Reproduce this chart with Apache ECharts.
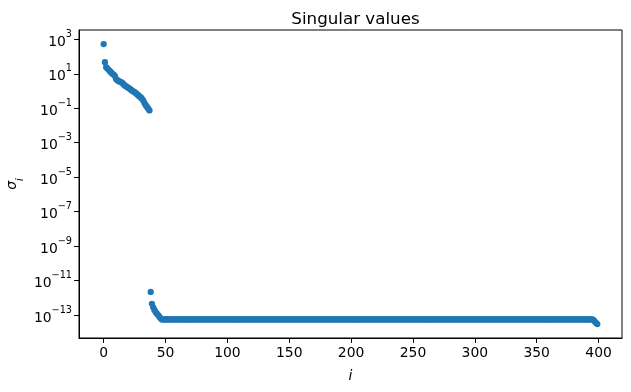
<!DOCTYPE html>
<html>
<head>
<meta charset="utf-8">
<script src="https://cdn.jsdelivr.net/npm/echarts@6/dist/echarts.min.js"></script>
<style>
html,body{margin:0;padding:0;background:#fff;}
#chart{width:631px;height:392px;}
</style>
</head>
<body>
<div id="chart"></div>
<script>
// Leading singular values (indices 0..37)
var headValues = [530, 47, 24, 20, 17, 14, 12, 10, 9.0, 7.5,
  5.0, 4.2, 3.8, 3.5, 3.3, 3.0, 2.5, 2.1, 1.9, 1.7,
  1.5, 1.35, 1.2, 1.05, 0.95, 0.85, 0.75, 0.65, 0.55, 0.48,
  0.42, 0.35, 0.28, 0.2, 0.15, 0.12, 0.095, 0.075];
// Sharp drop (indices 38..46)
var dropValues = [2.2e-12, 4.5e-13, 2.8e-13, 2.0e-13, 1.5e-13, 1.2e-13, 1.0e-13, 8e-14, 6.5e-14];
// Plateau (run of equal values, indices 47..395)
var plateauValue = 5.6e-14;
var plateauCount = 349;
// Tail (indices 396..399)
var tailValues = [5.0e-14, 4.2e-14, 3.5e-14, 3.0e-14];

var xTicks = [0, 50, 100, 150, 200, 250, 300, 350, 400];
var yTicks = [1e-13, 1e-11, 1e-9, 1e-7, 1e-5, 1e-3, 1e-1, 1e1, 1e3];

var values = [];
headValues.forEach(function (v) { values.push(v); });
dropValues.forEach(function (v) { values.push(v); });
for (var k = 0; k < plateauCount; k++) values.push(plateauValue);
tailValues.forEach(function (v) { values.push(v); });
var points = values.map(function (v, i) { return [i, v]; });

var FONT = 'DejaVu Sans';
var chart = echarts.init(document.getElementById('chart'), null, {renderer: 'canvas'});
chart.setOption({
  animation: false,
  backgroundColor: '#fff',
  title: {
    text: 'Singular values',
    left: 350.5,
    textAlign: 'center',
    top: 6,
    textStyle: {fontFamily: FONT, fontSize: 16.7, fontWeight: 'normal', color: '#000'}
  },
  grid: {
    left: 79, right: 9, top: 30, bottom: 54,
    containLabel: false,
    outerBoundsMode: 'none',
    show: true, borderColor: '#000', borderWidth: 1, backgroundColor: 'transparent'
  },
  xAxis: {
    type: 'value',
    min: -19.95, max: 418.95,
    name: 'i',
    nameLocation: 'middle',
    nameGap: 31,
    nameMoveOverlap: false,
    nameTextStyle: {fontFamily: FONT, fontSize: 13.9, fontStyle: 'italic', color: '#000'},
    axisLine: {show: true, onZero: false, lineStyle: {color: '#000', width: 1}},
    axisTick: {show: true, length: 4.9, inside: false, customValues: xTicks, lineStyle: {color: '#000'}},
    axisLabel: {
      customValues: xTicks, margin: 8, color: '#000', fontFamily: FONT, fontSize: 13.9,
      formatter: function (v) { return String(v); }
    },
    splitLine: {show: false}
  },
  yAxis: {
    type: 'log',
    logBase: 10,
    min: Math.pow(10, -14.33), max: Math.pow(10, 3.54),
    name: '{s|σ}{i|i}',
    nameLocation: 'middle',
    nameGap: 54,
    nameRotate: 90,
    nameMoveOverlap: false,
    nameTextStyle: {
      rich: {
        s: {fontFamily: FONT, fontSize: 13.9, fontStyle: 'italic', color: '#000', lineHeight: 20, verticalAlign: 'top'},
        i: {fontFamily: FONT, fontSize: 9.7, fontStyle: 'italic', color: '#000', lineHeight: 10, verticalAlign: 'bottom'}
      }
    },
    axisLine: {show: true, onZero: false, lineStyle: {color: '#000', width: 1}},
    axisTick: {show: true, length: 4.9, customValues: yTicks, lineStyle: {color: '#000'}},
    minorTick: {show: false},
    axisLabel: {
      customValues: yTicks, margin: 7, color: '#000',
      formatter: function (v) {
        var e = Math.round(Math.log10(v));
        return '{b|10}{s|' + (e < 0 ? '\u2212' : '') + Math.abs(e) + '}';
      },
      rich: {
        b: {fontFamily: FONT, fontSize: 13.9, color: '#000', lineHeight: 20, verticalAlign: 'bottom'},
        s: {fontFamily: FONT, fontSize: 9.7, color: '#000', lineHeight: 8, verticalAlign: 'top'}
      }
    },
    splitLine: {show: false}
  },
  series: [{
    type: 'scatter',
    data: points,
    symbol: 'circle',
    symbolSize: 6.3,
    itemStyle: {color: '#1f77b4', opacity: 1},
    silent: true
  }]
});
</script>
</body>
</html>
